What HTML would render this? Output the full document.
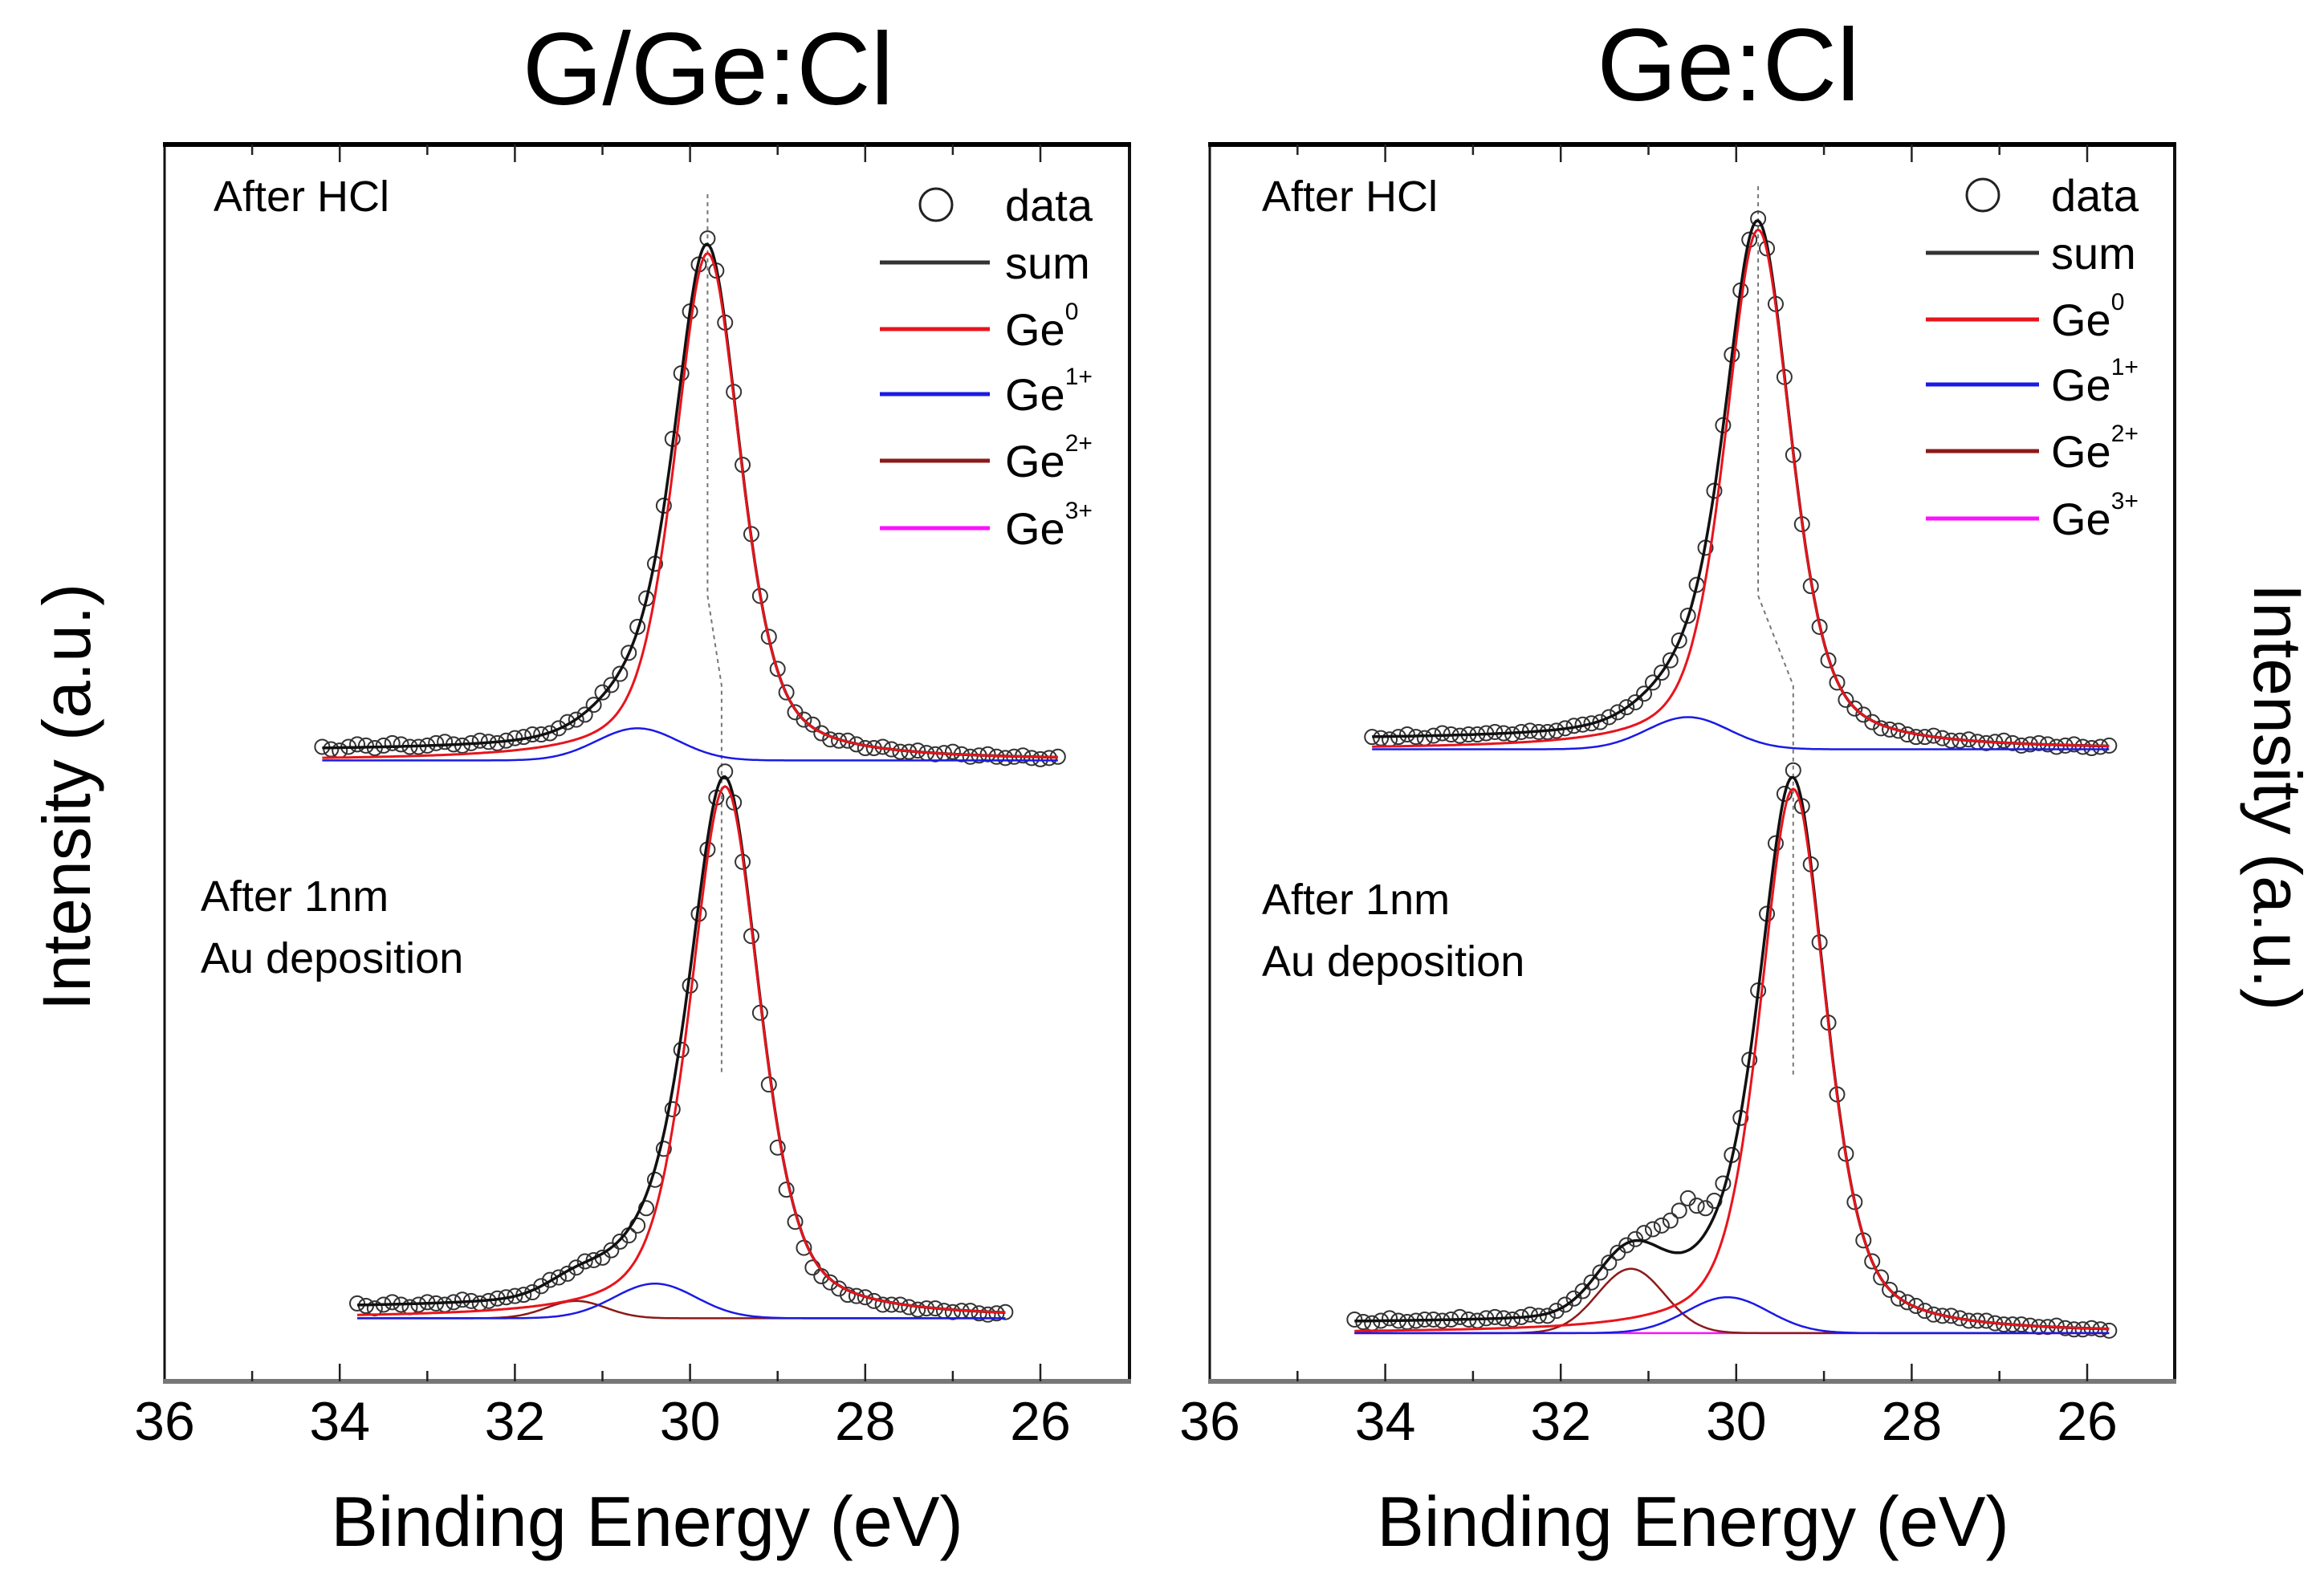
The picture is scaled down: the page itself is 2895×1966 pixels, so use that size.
<!DOCTYPE html>
<html><head><meta charset="utf-8"><style>
html,body{margin:0;padding:0;background:#fff;}
svg{display:block;font-family:"Liberation Sans",sans-serif;}
</style></head><body>
<svg id="chart" width="2895" height="1966" viewBox="0 0 2895 1966" xmlns="http://www.w3.org/2000/svg">
<text x="882" y="130" font-size="128" text-anchor="middle">G/Ge:Cl</text>
<text x="2153" y="125" font-size="128" text-anchor="middle">Ge:Cl</text>
<text x="806" y="1926" font-size="88" text-anchor="middle">Binding Energy (eV)</text>
<text x="2109" y="1926" font-size="88" text-anchor="middle">Binding Energy (eV)</text>
<text transform="translate(112,993) rotate(-90)" font-size="84" text-anchor="middle">Intensity (a.u.)</text>
<text transform="translate(2808,993) rotate(90)" font-size="84" text-anchor="middle">Intensity (a.u.)</text>
<g id="plots"></g>
</svg>
<script>
// ---- data (intensity in arbitrary units, 0..100 = panel height) ----
const ticks = [36, 34, 32, 30, 28, 26];
const tickLabels = ["36", "34", "32", "30", "28", "26"];
// Left top (G/Ge:Cl after HCl)
const ltE0 = 34.2, ltStep = 0.1;
const ltData = [51.3,51.1,51.0,51.3,51.5,51.4,51.2,51.4,51.6,51.5,51.3,51.3,51.4,51.6,51.7,51.5,51.4,51.6,51.8,51.7,51.6,51.8,52.0,52.1,52.3,52.3,52.4,52.8,53.3,53.5,53.9,54.7,55.7,56.3,57.2,58.9,61.0,63.3,66.1,70.8,76.2,81.5,86.5,90.3,92.4,89.8,85.6,80.0,74.1,68.5,63.5,60.2,57.6,55.7,54.1,53.5,53.1,52.4,51.9,51.8,51.8,51.5,51.2,51.2,51.3,51.1,50.9,50.9,51.0,50.8,50.7,50.8,50.9,50.7,50.5,50.6,50.7,50.5,50.4,50.5,50.6,50.4,50.3,50.4,50.5];
const ltPeaks = {center:[29.8,30.6], height:[41.0,2.6], width:[0.9,1.1]};
const ltBase = 50.2, ltBg = 0.8;
// Left bottom (after Au)
const lbE0 = 33.8, lbStep = 0.1;
const lbData = [6.3,6.1,5.9,6.2,6.4,6.2,6.0,6.2,6.4,6.3,6.2,6.4,6.6,6.5,6.3,6.5,6.7,6.8,6.9,7.0,7.2,7.7,8.2,8.4,8.7,9.2,9.7,9.8,10.0,10.6,11.3,11.8,12.6,14.0,16.3,18.8,22.0,26.8,32.0,37.8,43.0,47.2,49.3,46.8,42.0,36.0,29.8,24.0,18.9,15.5,12.9,10.8,9.2,8.5,8.0,7.5,7.0,6.9,6.8,6.5,6.2,6.2,6.2,6.0,5.8,5.9,5.9,5.7,5.6,5.7,5.7,5.5,5.4,5.5,5.6];
const lbPeaks = {center:[29.6,30.4,31.3], height:[43.0,2.8,1.4], width:[0.95,1.1,0.8]};
const lbBase = 5.1, lbBg = 0.8;
// Right top (Ge:Cl after HCl)
const rtE0 = 34.15, rtStep = 0.1;
const rtData = [52.1,52.0,51.9,52.1,52.3,52.1,52.0,52.2,52.4,52.3,52.2,52.3,52.3,52.4,52.5,52.4,52.3,52.5,52.6,52.5,52.5,52.6,52.8,53.0,53.1,53.2,53.3,53.7,54.1,54.5,54.9,55.6,56.5,57.3,58.3,59.9,61.9,64.4,67.4,72.0,77.3,83.0,88.2,92.3,94.0,91.6,87.1,81.2,74.9,69.3,64.3,61.0,58.3,56.5,55.1,54.4,53.9,53.3,52.8,52.7,52.6,52.3,52.1,52.1,52.2,52.0,51.8,51.8,51.9,51.7,51.6,51.7,51.8,51.6,51.4,51.5,51.6,51.5,51.3,51.4,51.5,51.3,51.2,51.3,51.4];
const rtPeaks = {center:[29.75,30.55], height:[42.0,2.6], width:[0.9,1.1]};
const rtBase = 51.1, rtBg = 0.8;
// Right bottom (after Au)
const rbE0 = 34.35, rbStep = 0.1;
const rbData = [5.0,4.8,4.7,4.9,5.1,4.9,4.8,4.9,5.0,5.0,4.9,5.0,5.2,5.0,4.9,5.1,5.2,5.1,5.0,5.2,5.4,5.3,5.3,5.7,6.2,6.7,7.3,8.0,8.8,9.6,10.4,11.0,11.5,12.0,12.3,12.6,13.0,13.8,14.8,14.2,14.0,14.6,16.0,18.3,21.3,26.0,31.6,37.8,43.5,47.5,49.4,46.5,41.8,35.5,29.0,23.2,18.4,14.5,11.4,9.7,8.4,7.4,6.7,6.4,6.1,5.7,5.4,5.3,5.3,5.1,4.9,4.9,4.9,4.7,4.6,4.6,4.6,4.5,4.4,4.4,4.5,4.3,4.2,4.2,4.3,4.2,4.1];
const rbPeaks = {center:[29.35,30.1,31.2,31.0], height:[44.0,2.9,5.2,0.0], width:[0.9,1.1,0.9,1.0]};
const rbBase = 3.9, rbBg = 0.8;
const compColors = ["#e8141c", "#1a1ae6", "#8b1a1a", "#ff10ff"];
const compNames = ["ge0-fit", "ge1-fit", "ge2-fit", "ge3-fit"];

// ---- layout ----
const NS = "http://www.w3.org/2000/svg";
const root = document.getElementById("plots");
const TOP = 180, BOT = 1721;
const panels = [
  {name:"left", x0:205, x1:1407, e36:205, px:109.1},
  {name:"right", x0:1507, x1:2709, e36:1507, px:109.3}
];
function yScale(v){ return BOT - v * (BOT - TOP) / 100; }
function mk(tag, attrs, parent){
  const el = document.createElementNS(NS, tag);
  for (const k in attrs) el.setAttribute(k, attrs[k]);
  (parent || root).appendChild(el);
  return el;
}
function pv(E, c, h, w){ const d = E - c; return h * (0.5*Math.exp(-4*Math.LN2*d*d/(w*w)) + 0.5/(1+4*d*d/(w*w))); }
function gs(E, c, h, w){ const d = E - c; return h * Math.exp(-4*Math.LN2*d*d/(w*w)); }
function comp(i, E, P){ return i === 0 ? pv(E, P.center[0], P.height[0], P.width[0]) : gs(E, P.center[i], P.height[i], P.width[i]); }
function bgAt(E, P, bg){ return bg * (0.5 + 0.5*Math.tanh((E - P.center[0] - 0.4)/0.5)); }

panels.forEach(p => {
  p.xs = E => p.e36 + (36 - E) * p.px;
  const g = mk("g", {});
  
  
  const l1 = mk("line", {x1:p.x0, y1:TOP, x2:p.x0, y2:BOT, stroke:"#111", "stroke-width":3}, g);
  
  
  const l2 = mk("line", {x1:p.x1, y1:TOP, x2:p.x1, y2:BOT, stroke:"#111", "stroke-width":4}, g);
  
  
  const l3 = mk("line", {x1:p.x0-2, y1:TOP, x2:p.x1+2, y2:TOP, stroke:"#000", "stroke-width":6}, g);
  
  
  const l4 = mk("line", {x1:p.x0-2, y1:BOT, x2:p.x1+2, y2:BOT, stroke:"#777", "stroke-width":6}, g);
  
  
  for (let e = 35; e >= 25.5; e -= 1) {
    const major = (e % 2 === 0);
    const len = major ? 22 : 13;
    const x = p.xs(e);
    if (x > p.x1 - 3) continue;
    const t1 = mk("line", {x1:x, y1:TOP, x2:x, y2:TOP+len, stroke:"#222", "stroke-width":2.5}, g);
    
    
    const t2 = mk("line", {x1:x, y1:BOT, x2:x, y2:BOT-len, stroke:"#222", "stroke-width":2.5}, g);
    
    
  }
  ticks.forEach((t, i) => {
    const tx = mk("text", {x:p.xs(t), y:1794, "font-size":68, "text-anchor":"middle"}, g);
    tx.textContent = tickLabels[i];
    
    
  });
});

function drawSpectrum(p, name, E0, step, data, P, base, bg, dash){
  const g = mk("g", {});
  
  
  const Emax = E0, Emin = E0 - step*(data.length-1);
  const nComp = P.center.length;
  const sumPts = [], compPts = [];
  for (let i = 0; i < nComp; i++) compPts.push([]);
  for (let E = Emax; E >= Emin - 1e-9; E -= 0.02) {
    let s = base + bgAt(E, P, bg);
    for (let i = 0; i < nComp; i++) {
      const v = comp(i, E, P);
      s += v;
      compPts[i].push(p.xs(E).toFixed(1) + "," + yScale(base + v).toFixed(1));
    }
    sumPts.push(p.xs(E).toFixed(1) + "," + yScale(s).toFixed(1));
  }
  if (dash.length) {
    const dl = mk("polyline", {points: dash.map(d => p.xs(d[0]).toFixed(1)+","+d[1]).join(" "), fill:"none", stroke:"#777", "stroke-width":2, "stroke-dasharray":"5,5"}, g);
    
    
  }
  data.forEach((v, i) => {
    const c = mk("circle", {cx:p.xs(E0 - i*step), cy:yScale(v), r:9, fill:"none", stroke:"#333", "stroke-width":2}, g);
    
    
  });
  for (let i = nComp - 1; i >= 1; i--) {
    const pl = mk("polyline", {points:compPts[i].join(" "), fill:"none", stroke:compColors[i], "stroke-width":2.5}, g);
    
    
  }
  const sl = mk("polyline", {points:sumPts.join(" "), fill:"none", stroke:"#111", "stroke-width":3.5}, g);
  
  
  const rl = mk("polyline", {points:compPts[0].join(" "), fill:"none", stroke:compColors[0], "stroke-width":3}, g);
  
  
}
drawSpectrum(panels[0], "left-top", ltE0, ltStep, ltData, ltPeaks, ltBase, ltBg, [[29.8,242],[29.8,742],[29.64,854],[29.64,1340]]);
drawSpectrum(panels[0], "left-bottom", lbE0, lbStep, lbData, lbPeaks, lbBase, lbBg, []);
drawSpectrum(panels[1], "right-top", rtE0, rtStep, rtData, rtPeaks, rtBase, rtBg, [[29.75,232],[29.75,742],[29.35,854],[29.35,1340]]);
drawSpectrum(panels[1], "right-bottom", rbE0, rbStep, rbData, rbPeaks, rbBase, rbBg, []);

function txt(x, y, s, size, name, parent){
  const t = mk("text", {x:x, y:y, "font-size":size}, parent);
  t.textContent = s;
  
  
  return t;
}
txt(266, 263, "After HCl", 54, "left-top-label");
txt(1572, 263, "After HCl", 54, "right-top-label");
txt(250, 1135, "After 1nm", 54, "left-bottom-label-line1");
txt(250, 1212, "Au deposition", 54, "left-bottom-label-line2");
txt(1572, 1139, "After 1nm", 54, "right-bottom-label-line1");
txt(1572, 1216, "Au deposition", 54, "right-bottom-label-line2");

const legendSups = ["0", "1+", "2+", "3+"];
[{p:"left", cx:1166, lx0:1096, lx1:1233, tx:1252, dy:12}, {p:"right", cx:2470, lx0:2399, lx1:2540, tx:2555, dy:0}].forEach(L => {
  const g = mk("g", {});
  
  
  const c = mk("circle", {cx:L.cx, cy:243+L.dy, r:20, fill:"none", stroke:"#222", "stroke-width":3}, g);
  
  
  txt(L.tx, 263+L.dy, "data", 56, "legend-data-label", g);
  const s = mk("line", {x1:L.lx0, y1:315+L.dy, x2:L.lx1, y2:315+L.dy, stroke:"#333", "stroke-width":5}, g);
  
  
  txt(L.tx, 335+L.dy, "sum", 56, "legend-sum-label", g);
  const ys = [398, 479, 562, 646];
  ys.forEach((y, i) => {
    const ln = mk("line", {x1:L.lx0, y1:y+L.dy, x2:L.lx1, y2:y+L.dy, stroke:compColors[i], "stroke-width":5}, g);
    
    
    const t = txt(L.tx, y+20+L.dy, "Ge", 56, "legend-" + compNames[i] + "-label", g);
    const sp = document.createElementNS(NS, "tspan");
    sp.setAttribute("font-size", "30");
    sp.setAttribute("dy", "-32");
    sp.textContent = legendSups[i];
    t.appendChild(sp);
  });
});
</script>
</body></html>
